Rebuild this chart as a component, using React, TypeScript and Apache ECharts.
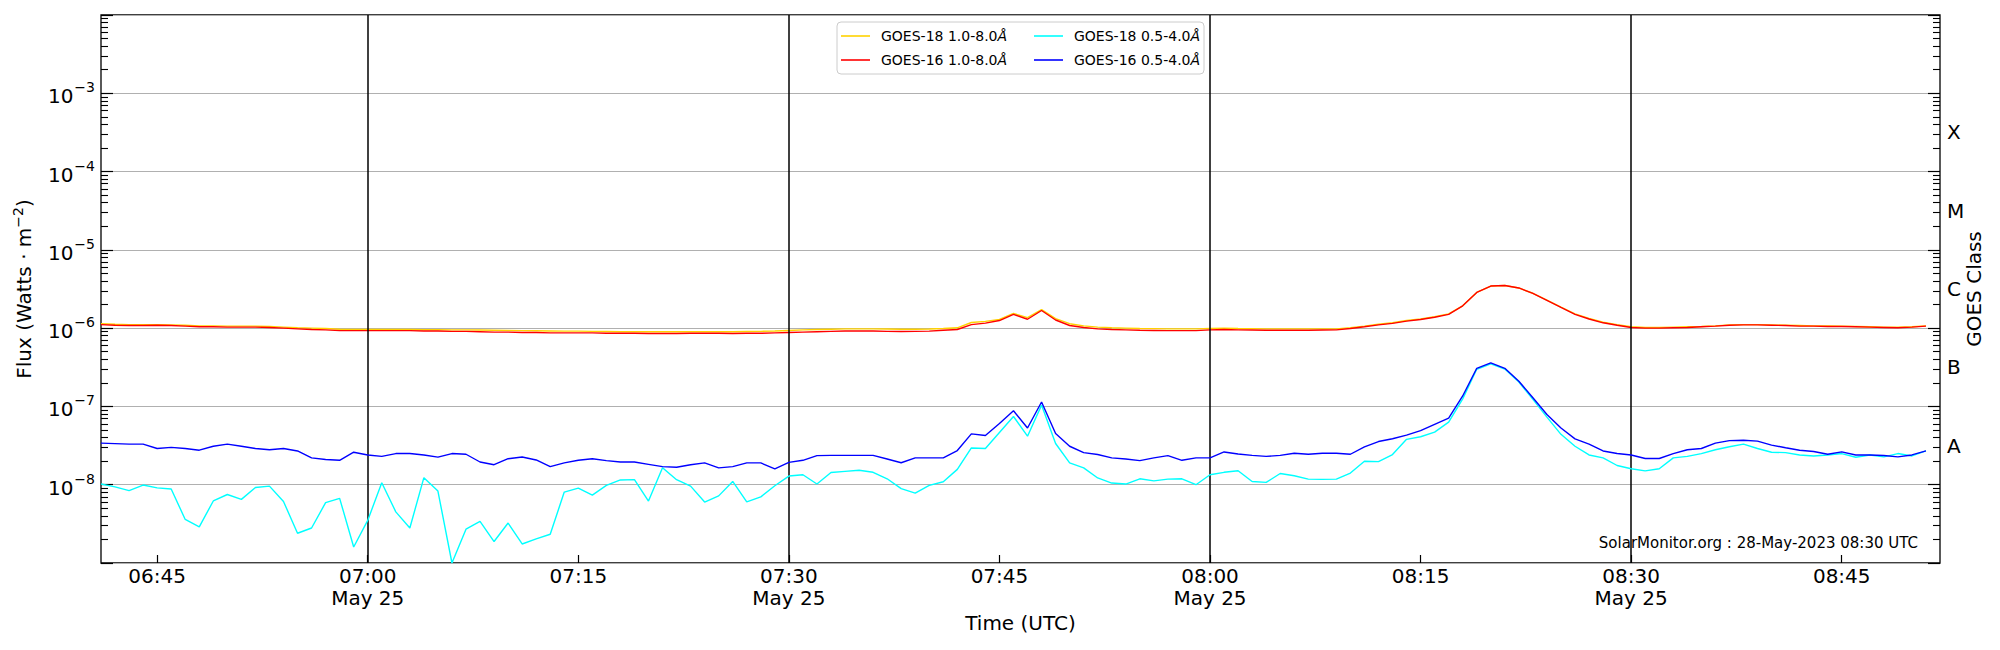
import { useEffect, useRef } from "react";
import * as echarts from "echarts";

// ---- categories / axis definitions ----
const START_TIME = "06:41"; // first sample, 1-minute cadence
const AXIS_MIN_TIME = "06:41";
const AXIS_MAX_TIME = "08:52";
const TICK_TIMES = ["06:45", "07:00", "07:15", "07:30", "07:45", "08:00", "08:15", "08:30", "08:45"];
const DATE_TIMES = ["07:00", "07:30", "08:00", "08:30"];
const DATE_LABEL = "May 25";

const SERIES_NAMES = ["GOES-18 1.0-8.0Å", "GOES-16 1.0-8.0Å", "GOES-18 0.5-4.0Å", "GOES-16 0.5-4.0Å"];
const SERIES_COLORS = ["#FFD200", "#FF0000", "#00FFFF", "#0000FF"];

// GOES-18 1.0-8.0 Å  (units of 1e-6 W m^-2)
const G18_LONG = [
  1.14, 1.12, 1.11, 1.11, 1.11, 1.10, 1.09, 1.07, 1.07, 1.06,
  1.06, 1.06, 1.05, 1.03, 1.01, 1.00, 0.99, 0.97, 0.96, 0.96,
  0.96, 0.96, 0.96, 0.955, 0.955, 0.95, 0.95, 0.945, 0.94, 0.935,
  0.93, 0.925, 0.92, 0.915, 0.915, 0.91, 0.905, 0.90, 0.90, 0.90,
  0.90, 0.90, 0.90, 0.90, 0.90, 0.90, 0.905, 0.91, 0.92, 0.935,
  0.95, 0.96, 0.97, 0.98, 0.98, 0.98, 0.975, 0.97, 0.97, 0.975,
  0.99, 1.01, 1.18, 1.22, 1.29, 1.54, 1.36, 1.72, 1.32, 1.14,
  1.07, 1.03, 1.01, 1.00, 0.99, 0.985, 0.98, 0.98, 0.98, 0.99,
  1.00, 0.99, 0.985, 0.98, 0.98, 0.98, 0.98, 0.98, 0.98, 1.01,
  1.06, 1.12, 1.17, 1.25, 1.31, 1.40, 1.52, 1.93, 2.86, 3.45,
  3.50, 3.26, 2.79, 2.28, 1.86, 1.52, 1.33, 1.19, 1.11, 1.04,
  1.02, 1.02, 1.03, 1.04, 1.05, 1.07, 1.10, 1.11, 1.11, 1.10,
  1.09, 1.08, 1.07, 1.07, 1.06, 1.05, 1.04, 1.03, 1.03, 1.04,
  1.07,
];

// GOES-16 1.0-8.0 Å  (units of 1e-6 W m^-2)
const G16_LONG = [
  1.11, 1.09, 1.08, 1.08, 1.09, 1.08, 1.06, 1.04, 1.04, 1.03,
  1.03, 1.03, 1.02, 1.00, 0.98, 0.96, 0.95, 0.93, 0.93, 0.93,
  0.93, 0.93, 0.93, 0.92, 0.92, 0.91, 0.91, 0.90, 0.89, 0.89,
  0.88, 0.88, 0.87, 0.87, 0.87, 0.87, 0.86, 0.86, 0.86, 0.855,
  0.855, 0.855, 0.86, 0.86, 0.86, 0.855, 0.86, 0.86, 0.87, 0.88,
  0.89, 0.90, 0.91, 0.92, 0.92, 0.92, 0.91, 0.905, 0.91, 0.915,
  0.94, 0.96, 1.11, 1.16, 1.25, 1.50, 1.30, 1.68, 1.27, 1.08,
  1.02, 0.98, 0.96, 0.95, 0.94, 0.935, 0.93, 0.93, 0.93, 0.95,
  0.96, 0.95, 0.945, 0.94, 0.94, 0.94, 0.94, 0.945, 0.95, 0.99,
  1.04, 1.10, 1.15, 1.23, 1.29, 1.38, 1.50, 1.93, 2.86, 3.45,
  3.50, 3.26, 2.78, 2.26, 1.84, 1.50, 1.31, 1.17, 1.09, 1.02,
  1.00, 1.00, 1.01, 1.02, 1.04, 1.06, 1.09, 1.10, 1.10, 1.09,
  1.08, 1.06, 1.06, 1.05, 1.05, 1.04, 1.03, 1.02, 1.01, 1.03,
  1.06,
];

// GOES-18 0.5-4.0 Å  (units of 1e-9 W m^-2)
const G18_SHORT = [
  10.2, 9.4, 8.4, 9.9, 9.1, 8.8, 3.6, 2.9, 6.2, 7.5,
  6.5, 9.2, 9.6, 6.1, 2.4, 2.8, 5.9, 6.7, 1.6, 3.5,
  10.6, 4.5, 2.8, 12.3, 8.3, 1.0, 2.7, 3.4, 1.88, 3.24,
  1.75, 2.03, 2.33, 8.05, 9.06, 7.37, 9.8, 11.5, 11.6, 6.18,
  16.5, 11.6, 9.6, 6.0, 7.2, 11.0, 6.05, 7.0, 9.7, 12.9,
  13.4, 10.2, 14.3, 14.8, 15.3, 14.4, 11.9, 8.9, 7.8, 9.8,
  10.9, 15.7, 29.5, 29.0, 46.4, 74.4, 41.7, 104, 33.6, 19.0,
  16.4, 12.2, 10.5, 10.2, 11.9, 11.2, 11.8, 11.9, 10.0, 13.4,
  14.4, 15.1, 11.0, 10.7, 13.9, 13.0, 11.8, 11.7, 11.8, 14.1,
  19.9, 19.7, 24.3, 38, 41, 47, 63, 125, 298, 350,
  300, 205, 123, 73, 44, 31, 24, 22, 17.6, 16,
  15, 16, 22, 23, 25, 28, 30.5, 33, 29, 26,
  25.7, 24, 23.3, 24, 25, 22.4, 24, 22.7, 25, 23.3,
  27,
];

// GOES-16 0.5-4.0 Å  (units of 1e-8 W m^-2)
const G16_SHORT = [
  3.4, 3.35, 3.3, 3.3, 2.9, 3.0, 2.9, 2.76, 3.1, 3.3,
  3.1, 2.9, 2.8, 2.9, 2.7, 2.2, 2.1, 2.05, 2.6, 2.4,
  2.3, 2.5, 2.5, 2.4, 2.25, 2.5, 2.45, 1.95, 1.8, 2.15,
  2.26, 2.07, 1.7, 1.9, 2.05, 2.15, 2.03, 1.95, 1.95, 1.82,
  1.7, 1.67, 1.8, 1.9, 1.64, 1.7, 1.9, 1.9, 1.59, 1.93,
  2.05, 2.35, 2.37, 2.37, 2.37, 2.37, 2.13, 1.91, 2.2, 2.2,
  2.2, 2.73, 4.46, 4.25, 6.05, 8.8, 5.3, 11.4, 4.5, 3.1,
  2.57, 2.43, 2.2, 2.13, 2.03, 2.2, 2.35, 2.05, 2.2, 2.2,
  2.62, 2.47, 2.37, 2.3, 2.37, 2.52, 2.45, 2.52, 2.52, 2.45,
  3.04, 3.56, 3.87, 4.3, 4.9, 5.9, 7.1, 13.6, 30.7, 36,
  30.7, 21, 12.9, 7.9, 5.3, 3.85, 3.3, 2.7, 2.5, 2.4,
  2.16, 2.16, 2.5, 2.8, 2.9, 3.4, 3.66, 3.7, 3.6, 3.2,
  2.97, 2.76, 2.66, 2.45, 2.63, 2.4, 2.4, 2.36, 2.27, 2.4,
  2.7,
];

const SERIES_VALUES = [G18_LONG, G16_LONG, G18_SHORT, G16_SHORT];
const SERIES_UNITS = [1e-6, 1e-6, 1e-9, 1e-8];

// y axis (log) definitions
const Y_MIN_EXP = -9;
const Y_MAX_EXP = -2;
const LABELLED_EXPONENTS = [-8, -7, -6, -5, -4, -3];
const MINOR_MULTIPLIERS = [2, 3, 4, 5, 6, 7, 8, 9];
const CLASS_LABELS = ["A", "B", "C", "M", "X"];
const CLASS_EXPONENTS = [-7.5, -6.5, -5.5, -4.5, -3.5];

const Y_NAME = "Flux (Watts · m{sup|−2})";
const Y2_NAME = "GOES Class";
const X_NAME = "Time (UTC)";
const WATERMARK = "SolarMonitor.org : 28-May-2023 08:30 UTC";

const FONT = "DejaVu Sans";

const toMin = (s: string) => {
  const [h, m] = s.split(":").map(Number);
  return h * 60 + m;
};
const fmtMin = (v: number) => {
  const h = Math.floor(v / 60);
  const m = Math.round(v - h * 60);
  return `${String(h).padStart(2, "0")}:${String(m).padStart(2, "0")}`;
};

export default function App() {
  const ref = useRef<HTMLDivElement>(null);

  useEffect(() => {
    document.body.style.margin = "0";
    if (!ref.current) return;
    const chart = echarts.init(ref.current, null, { renderer: "svg" });

    const start = toMin(START_TIME);
    const decades: number[] = [];
    for (let e = Y_MIN_EXP; e <= Y_MAX_EXP; e++) decades.push(Math.pow(10, e));
    const minors: number[] = [];
    for (let e = Y_MIN_EXP; e < Y_MAX_EXP; e++)
      MINOR_MULTIPLIERS.forEach((k) => minors.push(k * Math.pow(10, e)));
    const labelled = LABELLED_EXPONENTS.map((e) => Math.pow(10, e));
    const classPos = CLASS_EXPONENTS.map((e) => Math.pow(10, e));
    const tickMins = TICK_TIMES.map(toMin);
    const dateMins = DATE_TIMES.map(toMin);

    const yBase = {
      type: "log" as const,
      logBase: 10,
      min: Math.pow(10, Y_MIN_EXP),
      max: Math.pow(10, Y_MAX_EXP),
      gridIndex: 0,
    };

    const series: any[] = SERIES_VALUES.map((vals, si) => ({
      type: "line",
      name: SERIES_NAMES[si],
      data: vals.map((v, i) => [start + i, v * SERIES_UNITS[si]]),
      xAxisIndex: 0,
      yAxisIndex: 0,
      showSymbol: false,
      symbol: "none",
      color: SERIES_COLORS[si],
      lineStyle: { color: SERIES_COLORS[si], width: 1.4 },
      emphasis: { disabled: true },
      silent: true,
      z: 3 + si,
    }));
    series[0].markLine = {
      silent: true,
      symbol: ["none", "none"],
      label: { show: false },
      lineStyle: { color: "#000", type: "solid", width: 1.5 },
      emphasis: { disabled: true },
      data: dateMins.map((m) => ({ xAxis: m })),
    };

    const legendCols = [841, 1034];
    const legendRows = [29, 53];
    const legendPos = [
      [0, 0],
      [0, 1],
      [1, 0],
      [1, 1],
    ];

    const option: any = {
      animation: false,
      backgroundColor: "#fff",
      grid: {
        left: 101,
        right: 60,
        top: 15,
        bottom: 87,
        show: true,
        borderColor: "#000",
        borderWidth: 1.3,
        backgroundColor: "transparent",
      },
      xAxis: {
        type: "value",
        min: toMin(AXIS_MIN_TIME),
        max: toMin(AXIS_MAX_TIME),
        axisLine: { show: false, onZero: false },
        axisTick: {
          show: true,
          inside: true,
          length: 8,
          customValues: tickMins,
          lineStyle: { color: "#000", width: 1.2 },
        },
        axisLabel: {
          customValues: tickMins,
          formatter: (v: number) =>
            dateMins.includes(Math.round(v)) ? `${fmtMin(v)}\n${DATE_LABEL}` : fmtMin(v),
          fontSize: 20,
          lineHeight: 22,
          fontFamily: FONT,
          color: "#000",
          margin: 2,
        },
        splitLine: { show: false },
        name: X_NAME,
        nameLocation: "middle",
        nameGap: 50,
        nameMoveOverlap: false,
        nameTextStyle: { fontSize: 20, fontFamily: FONT, color: "#000" },
      },
      yAxis: [
        {
          ...yBase,
          position: "left",
          interval: 1,
          axisLine: { show: false, onZero: false },
          axisTick: {
            show: true,
            inside: true,
            length: 12,
            customValues: decades,
            lineStyle: { color: "#000", width: 1.2 },
          },
          axisLabel: {
            customValues: labelled,
            margin: 6,
            formatter: (v: number) => {
              const e = Math.round(Math.log10(v));
              return `{b|10}{s|−${Math.abs(e)}}`;
            },
            rich: {
              b: { fontSize: 20, fontFamily: FONT, color: "#000", lineHeight: 26, verticalAlign: "bottom" },
              s: { fontSize: 14, fontFamily: FONT, color: "#000", lineHeight: 26, verticalAlign: "top", padding: [0, 0, 0, 1] },
            },
          },
          splitLine: {
            show: true,
            lineStyle: { color: "#b0b0b0", width: 1.2 },
          },
          name: Y_NAME,
          nameLocation: "middle",
          nameRotate: 90,
          nameGap: 64,
          nameTextStyle: {
            fontSize: 20,
            fontFamily: FONT,
            color: "#000",
            rich: {
              sup: { fontSize: 14, fontFamily: FONT, color: "#000", verticalAlign: "top", lineHeight: 26 },
            },
          },
        },
        {
          ...yBase,
          position: "left",
          axisLine: { show: false, onZero: false },
          axisTick: {
            show: true,
            inside: true,
            length: 7,
            customValues: minors,
            lineStyle: { color: "#000", width: 1.1 },
          },
          axisLabel: { show: false },
          splitLine: { show: false },
        },
        {
          ...yBase,
          position: "right",
          axisLine: { show: false, onZero: false },
          axisTick: {
            show: true,
            inside: true,
            length: 12,
            customValues: decades,
            lineStyle: { color: "#000", width: 1.2 },
          },
          axisLabel: {
            customValues: classPos,
            margin: 7,
            formatter: (v: number) => {
              const e = Math.log10(v);
              const idx = CLASS_EXPONENTS.findIndex((x) => Math.abs(x - e) < 0.01);
              return idx >= 0 ? CLASS_LABELS[idx] : "";
            },
            fontSize: 20,
            fontFamily: FONT,
            color: "#000",
          },
          splitLine: { show: false },
          name: Y2_NAME,
          nameLocation: "middle",
          nameRotate: 90,
          nameGap: 24,
          nameMoveOverlap: false,
          nameTextStyle: { fontSize: 20, fontFamily: FONT, color: "#000" },
        },
        {
          ...yBase,
          position: "right",
          axisLine: { show: false, onZero: false },
          axisTick: {
            show: true,
            inside: true,
            length: 7,
            customValues: minors,
            lineStyle: { color: "#000", width: 1.1 },
          },
          axisLabel: { show: false },
          splitLine: { show: false },
        },
      ],
      legend: SERIES_NAMES.map((name, i) => ({
        data: [name],
        left: legendCols[legendPos[i][0]],
        top: legendRows[legendPos[i][1]],
        padding: 0,
        icon: "rect",
        itemWidth: 29,
        itemHeight: 1.6,
        selectedMode: false,
        z: 6,
        formatter: (n: string) => `${n.replace("Å", "")}{i|Å}`,
        textStyle: {
          fontSize: 14,
          fontFamily: FONT,
          color: "#000",
          padding: [0, 0, 0, 6],
          rich: {
            i: { fontSize: 14, fontFamily: FONT, color: "#000", fontStyle: "italic" },
          },
        },
      })),
      graphic: [
        {
          type: "rect",
          z: 5,
          silent: true,
          shape: { x: 837, y: 22, width: 367, height: 52, r: 4 },
          style: { fill: "rgba(255,255,255,0.85)", stroke: "#cccccc", lineWidth: 1 },
        },
        {
          type: "text",
          z: 5,
          silent: true,
          x: 1918,
          y: 543,
          style: {
            text: WATERMARK,
            fontSize: 15,
            fontFamily: FONT,
            fill: "#000",
            align: "right",
            verticalAlign: "middle",
          },
        },
      ],
      series,
    };

    chart.setOption(option);
    return () => chart.dispose();
  }, []);

  return <div ref={ref} style={{ width: 2000, height: 650 }} />;
}
